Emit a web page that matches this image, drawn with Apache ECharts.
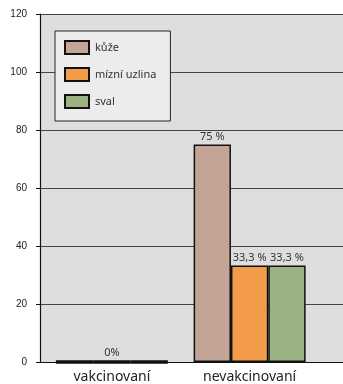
<!DOCTYPE html>
<html>
<head>
<meta charset="utf-8">
<script src="https://cdn.jsdelivr.net/npm/echarts@6/dist/echarts.min.js"></script>
<style>
  html, body { margin: 0; padding: 0; background: #ffffff; }
  #chart { width: 343px; height: 384px; }
</style>
</head>
<body>
<div id="chart"></div>
<script>
// Groups on the x axis
const categories = ['vakcinovaní', 'nevakcinovaní'];

// Share of positive samples per tissue (%)
const kuze = [0, 75];
const uzlina = [0, 33.3];
const sval = [0, 33.3];

// Text shown above each bar ('' = no label)
const kuzeLabels = ['', '75 %'];
const uzlinaLabels = ['0%', '33,3 %'];
const svalLabels = ['', '33,3 %'];

// Value axis ticks
const yMin = 0, yMax = 120, yStep = 20;

const seriesNames = ['kůže', 'mízní uzlina', 'sval'];
const colors = ['#c4a497', '#f29b48', '#9bb383'];

const chart = echarts.init(document.getElementById('chart'), null, { renderer: 'canvas' });

function barSeries(name, values, labels, color) {
  return {
    name: name,
    type: 'bar',
    xAxisIndex: 1,
    yAxisIndex: 1,
    // empty bars are drawn as a heavy baseline stroke
    data: values.map(v => v === 0 ? { value: v, itemStyle: { borderWidth: 3.5 } } : v),
    barGap: '0%',
    barCategoryGap: '18.7%',
    itemStyle: { color: color, borderColor: '#111', borderWidth: 1.5 },
    label: {
      show: true,
      position: 'top',
      distance: 2,
      color: '#333',
      fontFamily: 'Noto Sans',
      fontSize: 11,
      formatter: p => labels[p.dataIndex]
    },
    emphasis: { disabled: true },
    animation: false
  };
}

const option = {
  animation: false,
  legend: {
    orient: 'vertical',
    left: 55,
    top: 31,
    backgroundColor: '#ececec',
    borderColor: '#222',
    borderWidth: 1,
    padding: [9, 14, 12, 9],
    itemWidth: 24,
    itemHeight: 13,
    itemGap: 12,
    textStyle: { fontFamily: 'Noto Sans', fontSize: 11, color: '#333', padding: [0, 0, 0, 1] },
    data: seriesNames.map(n => ({ name: n, icon: 'rect' }))
  },
  grid: [
    // background, gridlines and value scale
    { left: 40, right: 0, top: 14, bottom: 22, show: true, backgroundColor: '#dedede', borderWidth: 0 },
    // bars
    { left: 43, right: 24.5, top: 14, bottom: 22 }
  ],
  xAxis: [
    {
      type: 'value', gridIndex: 0, min: 0, max: 1,
      axisLine: { show: true, lineStyle: { color: '#111', width: 1.2 } },
      axisTick: { show: false },
      axisLabel: { show: false },
      splitLine: { show: false }
    },
    {
      type: 'category', gridIndex: 1, data: categories,
      axisLine: { show: false },
      axisTick: { show: false },
      axisLabel: { fontFamily: 'Noto Sans', fontSize: 14, color: '#222', margin: 8 }
    }
  ],
  yAxis: [
    {
      type: 'value', gridIndex: 0, min: yMin, max: yMax, interval: yStep,
      axisLine: { show: true, lineStyle: { color: '#111', width: 1.2 } },
      axisTick: { show: true, length: 4, lineStyle: { color: '#111' } },
      axisLabel: { fontFamily: 'Liberation Sans', fontSize: 10, color: '#222', margin: 13 },
      splitLine: { show: true, lineStyle: { color: '#444', width: 1 } }
    },
    { type: 'value', gridIndex: 1, min: yMin, max: yMax, interval: yStep, show: false }
  ],
  series: [
    barSeries(seriesNames[0], kuze, kuzeLabels, colors[0]),
    barSeries(seriesNames[1], uzlina, uzlinaLabels, colors[1]),
    barSeries(seriesNames[2], sval, svalLabels, colors[2])
  ]
};

chart.setOption(option);
</script>
</body>
</html>
